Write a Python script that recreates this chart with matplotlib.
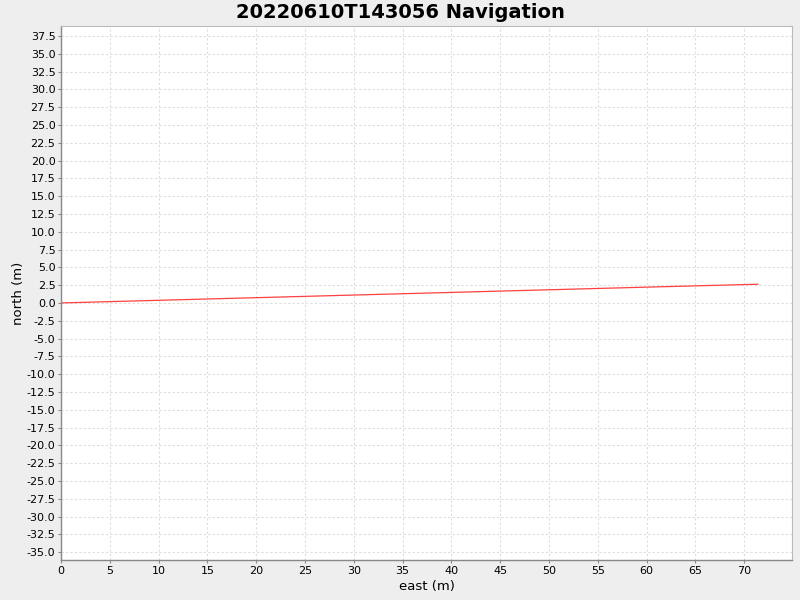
import numpy as np
import matplotlib
matplotlib.use('Agg')
import matplotlib.pyplot as plt
from matplotlib.ticker import MultipleLocator, FormatStrFormatter

plt.rcParams['axes.unicode_minus'] = False

# track data (east, north) in metres
east = [0.0, 10.0, 20.0, 30.0, 40.0, 50.0, 60.0, 71.4]
north = [0.0, 0.37, 0.74, 1.11, 1.48, 1.85, 2.22, 2.63]

title = '20220610T143056 Navigation'

fig = plt.figure(figsize=(8, 6), dpi=100, facecolor='#eeeeee')
ax = fig.add_axes([0.07625, 0.0667, 0.91375, 0.89])
ax.set_facecolor('white')

ax.plot(east, north, color='#ff4040', lw=0.9)

ax.set_xlim(0, 74.9)
ax.set_ylim(-36.1, 38.9)
ax.xaxis.set_major_locator(MultipleLocator(5))
ax.yaxis.set_major_locator(MultipleLocator(2.5))
ax.yaxis.set_major_formatter(FormatStrFormatter('%.1f'))
ax.tick_params(labelsize=8, length=2, width=0.8, color='#888888', pad=2)

ax.grid(True, color='#dddddd', linestyle=(0, (2, 2)), linewidth=0.8)
ax.set_axisbelow(True)

for side in ['left', 'bottom']:
    ax.spines[side].set_color('#888888')
    ax.spines[side].set_linewidth(1.0)
for side in ['top', 'right']:
    ax.spines[side].set_color('#bbbbbb')
    ax.spines[side].set_linewidth(0.8)

ax.set_xlabel('east (m)', fontsize=9.5, labelpad=3)
ax.set_ylabel('north (m)', fontsize=9.5, labelpad=1)
fig.suptitle(title, fontsize=14, fontweight='bold', y=0.995)

plt.savefig('out.png', dpi=100, facecolor=fig.get_facecolor())
